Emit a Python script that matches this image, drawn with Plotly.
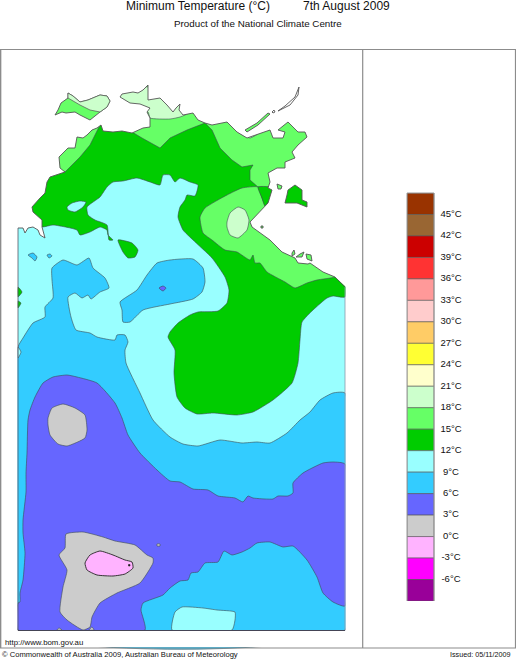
import plotly.graph_objects as go

# ---------- legend data ----------
LEVEL_BASES = [45, 42, 39, 36, 33, 30, 27, 24, 21, 18, 15, 12, 9, 6, 3, 0, -3, -6, -9]
LEVEL_COLOURS = ["#993300", "#996633", "#CC0000", "#FF3333", "#FF9999", "#FFCCCC", "#FFCC66",
                 "#FFFF33", "#FFFFCC", "#CCFFCC", "#66FF66", "#00CC00", "#99FFFF", "#33CCFF",
                 "#6666FF", "#CCCCCC", "#FFB3FF", "#FF00FF", "#990099"]
TICK_VALUES = [45, 42, 39, 36, 33, 30, 27, 24, 21, 18, 15, 12, 9, 6, 3, 0, -3, -6]
TICK_LABELS = [f"{v}°C" for v in TICK_VALUES]
C = dict(zip(LEVEL_BASES, LEVEL_COLOURS))

# ---------- map outlines (x, y in image units) ----------
land_box = [(18, 49), (345, 49), (345, 630), (18, 630)]
coast = [(18, 228), (23, 228), (25, 233), (28, 228), (33, 227), (38, 230), (40, 235), (45, 238), (42, 227),
         (42, 220), (33, 212), (32, 207), (40, 198), (45, 193), (47, 182), (50, 177), (65, 172), (60, 168),
         (59, 157), (68, 148), (75, 148), (77, 137), (83, 138), (87, 135), (92, 130), (97, 128), (101, 125),
         (103, 131), (113, 132), (122, 131), (132, 133), (138, 130), (143, 128), (150, 127), (150, 118),
         (147, 112), (150, 108), (140, 104), (130, 103), (120, 97), (122, 94), (133, 92), (138, 93),
         (143, 90), (148, 85), (148, 100), (160, 98), (167, 105), (173, 112), (176, 108), (180, 104),
         (179, 110), (183, 115), (193, 113), (198, 120), (205, 123), (212, 125), (227, 122), (237, 132),
         (247, 138), (258, 134), (270, 130), (273, 138), (283, 138), (285, 132), (278, 130), (288, 122),
         (293, 127), (298, 132), (305, 132), (307, 137), (298, 145), (292, 152), (295, 158), (285, 162),
         (285, 168), (277, 168), (268, 173), (270, 182), (268, 188), (272, 190), (268, 203), (250, 222),
         (252, 227), (260, 233), (270, 240), (282, 252), (295, 258), (298, 263), (308, 264), (310, 263),
         (323, 272), (335, 277), (345, 287)]
sea_corners = [(346, 287), (346, 48), (17, 48), (17, 228)]

blue_main = [(18, 347), (23, 338), (33, 323), (45, 317), (45, 307), (53, 298), (52, 280), (52, 268), (63, 260),
             (77, 265), (89, 258), (93, 268), (105, 278), (109, 288), (100, 292), (91, 299), (88, 295),
             (82, 298), (75, 293), (68, 297), (71, 317), (76, 330), (90, 333), (97, 337), (115, 340),
             (117, 335), (125, 335), (128, 342), (125, 350), (126, 363), (140, 393), (153, 420), (170, 437),
             (183, 444), (198, 446), (220, 440), (242, 443), (257, 442), (270, 443), (287, 433), (300, 420),
             (310, 412), (320, 400), (333, 393), (345, 393), (345, 630), (18, 630)]
blue_blob = [(120, 302), (137, 290), (147, 275), (157, 263), (170, 260), (193, 259), (203, 268), (205, 282),
             (202, 292), (193, 299), (170, 304), (143, 310), (130, 322), (123, 322), (122, 310)]
blue_dot_a = [(28, 255), (33, 253), (37, 257), (35, 261), (32, 258)]
blue_dot_b = [(47, 255), (50, 254), (52, 256), (49, 258)]
violet_dot = [(159, 288), (163, 286), (166, 288), (163, 291)]
cyan_notch = [(18, 347), (21, 352), (18, 358)]
violet_main = [(28, 420), (27, 453), (26, 473), (26, 492), (23, 520), (23, 533), (25, 553), (23, 580), (20, 593),
               (20, 602), (18, 603), (18, 630), (145, 630), (141, 610), (143, 603), (163, 595), (170, 588),
               (180, 581), (188, 580), (191, 573), (198, 572), (205, 563), (218, 562), (224, 551), (232, 555),
               (242, 552), (250, 548), (257, 543), (270, 542), (283, 547), (293, 546), (307, 560), (317, 577),
               (323, 593), (333, 602), (345, 606), (345, 464), (333, 462), (323, 463), (303, 473), (293, 483),
               (293, 493), (288, 496), (278, 496), (273, 499), (253, 498), (248, 496), (243, 502), (235, 498),
               (218, 496), (208, 490), (193, 489), (180, 482), (170, 481), (157, 470), (140, 453), (128, 435),
               (122, 418), (115, 403), (97, 383), (77, 377), (67, 375), (53, 377), (43, 383), (35, 397), (30, 410)]
grey_upper = [(48, 418), (52, 408), (63, 404), (75, 408), (85, 415), (87, 430), (85, 438), (67, 446), (58, 444),
              (50, 435), (48, 425)]
grey_lower = [(66, 534), (83, 532), (103, 537), (115, 541), (135, 545), (147, 555), (153, 558), (153, 563),
              (140, 583), (117, 593), (100, 603), (92, 617), (90, 627), (83, 630), (67, 620), (60, 612),
              (63, 587), (67, 570), (59, 555), (65, 548)]
grey_bump_a = [(57, 630), (59, 628), (62, 630)]
grey_bump_b = [(89, 630), (92, 627), (94, 630)]
grey_speck = [(157, 544), (160, 544), (160, 546), (157, 546)]
pink_core = [(85, 563), (90, 555), (100, 551), (113, 555), (125, 560), (132, 562), (133, 568), (125, 574),
             (113, 576), (97, 575), (87, 570)]
cold_dot = [(128.5, 564.5), (130, 564.5), (130, 566), (128.5, 566)]
south_cyan = [(172, 630), (175, 612), (182, 607), (203, 608), (217, 610), (235, 612), (235, 620), (232, 630)]

green_main = [(42, 227), (53, 225), (77, 230), (80, 235), (90, 232), (100, 227), (107, 230), (108, 235), (113, 240),
              (109, 240), (107, 225), (95, 220), (88, 215), (87, 207), (100, 197), (107, 187), (113, 182),
              (123, 181), (137, 178), (150, 182), (160, 185), (163, 175), (170, 175), (175, 182), (180, 178),
              (190, 182), (198, 185), (195, 196), (187, 195), (185, 200), (180, 207), (178, 217), (183, 230),
              (193, 240), (212, 258), (225, 277), (229, 290), (227, 303), (218, 311), (198, 312), (190, 315),
              (178, 323), (170, 332), (168, 337), (175, 350), (174, 373), (177, 397), (185, 408), (197, 414),
              (213, 413), (237, 415), (253, 412), (273, 400), (292, 383), (298, 363), (300, 340), (302, 322),
              (313, 310), (327, 298), (333, 296), (345, 297), (345, 260), (260, 150), (200, 110), (110, 110),
              (30, 190), (25, 220)]
cyan_lake = [(67, 207), (72, 203), (80, 201), (86, 202), (83, 207), (75, 212), (68, 210)]
green_isle = [(118, 240), (132, 243), (138, 250), (135, 257), (128, 258), (123, 252)]
green_edge_a = [(18, 287), (22, 292), (18, 297)]
green_edge_b = [(18, 301), (21, 303), (18, 308)]
light_west = [(65, 172), (80, 157), (90, 145), (100, 125), (85, 120), (50, 150), (50, 175)]
light_north = [(258, 187), (250, 180), (250, 170), (253, 165), (242, 167), (232, 160), (220, 148), (212, 130),
               (205, 123), (187, 130), (170, 138), (160, 148), (142, 138), (132, 132), (125, 125), (125, 70),
               (320, 70), (320, 188), (272, 188)]
light_south = [(205, 208), (227, 195), (242, 188), (258, 187), (262, 198), (265, 205), (275, 215), (300, 240),
               (345, 270), (335, 277), (317, 280), (307, 283), (295, 288), (285, 282), (267, 272), (260, 263),
               (255, 263), (253, 255), (250, 260), (237, 252), (225, 250), (212, 240), (203, 233), (200, 217)]
green_wedge = [(258, 187), (275, 188), (265, 206), (262, 198)]
pale_north = [(150, 118), (170, 119), (180, 117), (190, 112), (185, 95), (110, 85), (115, 110), (148, 112)]
pale_elcho = [(238, 132), (250, 138), (260, 132), (252, 128)]
pale_centre = [(227, 222), (230, 213), (238, 207), (245, 210), (249, 220), (247, 230), (238, 238), (230, 235), (227, 227)]

tiwi_outline = [(55, 115), (58, 110), (61, 103), (68, 98), (68, 93), (73, 96), (80, 102), (88, 100), (100, 95),
                (107, 96), (110, 101), (107, 107), (100, 112), (90, 120), (80, 115), (75, 112), (66, 113), (62, 112)]
tiwi_pale = [(68, 93), (73, 96), (80, 102), (88, 100), (100, 95), (107, 96), (110, 101), (107, 107), (100, 112),
             (90, 110), (80, 105), (72, 100), (68, 98)]
groote = [(288, 190), (295, 185), (302, 190), (302, 200), (307, 202), (307, 207), (297, 203), (285, 203), (287, 195)]
isle_a = [(277, 184), (282, 186), (281, 189), (278, 189)]
isle_b = [(261, 226), (263, 226), (263, 228), (261, 228)]
isle_c = [(292, 253), (294, 250), (295, 254), (292, 256)]
isle_d = [(296, 257), (300, 254), (304, 252), (302, 257)]
isle_e = [(306, 254), (311, 255), (312, 261), (307, 259)]
wessel = [(278, 111), (285, 106), (295, 97), (299, 87), (298, 95), (290, 105)]
elcho = [(245, 130), (257, 123), (268, 113), (270, 114), (258, 125), (247, 132)]
sea_isle = [(272, 112), (274, 110), (275, 112), (273, 113)]
mask_left = [(2, 49), (17.5, 49), (17.5, 647), (2, 647)]
mask_right = [(345.5, 49), (362, 49), (362, 647), (345.5, 647)]
mask_bottom = [(2, 631), (362, 631), (362, 647), (2, 647)]

# texts
TITLE_LEFT = "Minimum Temperature (°C)"
TITLE_RIGHT = "7th August 2009"
SUBTITLE = "Product of the National Climate Centre"
URL = "http://www.bom.gov.au"
COPYRIGHT = "© Commonwealth of Australia 2009, Australian Bureau of Meteorology"
ISSUED = "Issued: 05/11/2009"

FONT = "Liberation Sans"
EDGE = "#3c4a50"
COAST = "#555555"
FRAME = "#8c8c8c"

fig = go.Figure()


def poly(points, colour, edge=EDGE, width=0.6, smooth=True):
    xs = [p[0] for p in points] + [points[0][0]]
    ys = [p[1] for p in points] + [points[0][1]]
    line = dict(color=edge, width=width)
    if smooth:
        line.update(shape="spline", smoothing=0.5)
    fig.add_trace(go.Scatter(x=xs, y=ys, mode="lines", fill="toself", fillcolor=colour, line=line,
                             hoverinfo="skip", showlegend=False))


NONE = "rgba(0,0,0,0)"
poly(land_box, C[9], edge=NONE, smooth=False)
for shape, col in [(blue_main, C[6]), (blue_blob, C[6]), (blue_dot_a, C[6]), (blue_dot_b, C[6]),
                   (violet_dot, C[3]), (cyan_notch, C[9]), (violet_main, C[3]), (grey_upper, C[0]),
                   (grey_lower, C[0]), (grey_bump_a, C[0]), (grey_bump_b, C[0]), (grey_speck, C[0]),
                   (south_cyan, C[9])]:
    poly(shape, col)
poly(pink_core, C[-3], edge="#222222", width=0.9)
poly(cold_dot, "#222222", edge="#222222", smooth=False)
for shape, col in [(green_main, C[12]), (cyan_lake, C[9]), (green_isle, C[12]), (green_edge_a, C[12]),
                   (green_edge_b, C[12]), (light_west, C[15]), (light_north, C[15]), (light_south, C[15]),
                   (green_wedge, C[12]), (pale_north, C[18]), (pale_elcho, C[18]), (pale_centre, C[18])]:
    poly(shape, col, smooth=shape is not light_north and shape is not light_west)

# sea mask, then coast line and islands
sea = coast + sea_corners
poly(sea, "#FFFFFF", edge=NONE, smooth=False)
for m in (mask_left, mask_right, mask_bottom):
    poly(m, "#FFFFFF", edge=NONE, smooth=False)
fig.add_trace(go.Scatter(x=[p[0] for p in coast], y=[p[1] for p in coast], mode="lines",
                         line=dict(color=COAST, width=0.9), hoverinfo="skip", showlegend=False))
poly(tiwi_outline, C[15], edge=COAST, width=0.9, smooth=False)
poly(tiwi_pale, C[18], edge=COAST, width=0.7, smooth=False)
poly(groote, C[12], edge=COAST, width=0.9, smooth=False)
for shape, col in [(isle_a, C[15]), (isle_b, C[15]), (isle_c, C[15]), (isle_d, C[15]), (isle_e, C[15]),
                   (wessel, "#FFFFFF"), (elcho, C[15]), (sea_isle, "#FFFFFF")]:
    poly(shape, col, edge=COAST, width=0.9, smooth=False)

# colour legend
fig.add_trace(go.Bar(x=[0.5] * len(LEVEL_BASES), y=[3] * len(LEVEL_BASES), base=LEVEL_BASES, width=1,
                     marker=dict(color=LEVEL_COLOURS, line=dict(color="#555555", width=0.6)),
                     xaxis="x2", yaxis="y2", hoverinfo="skip", showlegend=False))
fig.add_trace(go.Scatter(x=[1.63] * len(TICK_VALUES), y=TICK_VALUES, text=TICK_LABELS, mode="text",
                         textposition="middle center", textfont=dict(family=FONT, size=9.5, color="#111111"),
                         xaxis="x2", yaxis="y2", cliponaxis=False, hoverinfo="skip", showlegend=False))

shapes = []
for x0, y0, x1, y1, col, w in [(0.6, 49.5, 515.5, 49.5, FRAME, 1.2), (0.6, 49, 0.6, 648, FRAME, 1.5),
                               (362.7, 49, 362.7, 648, FRAME, 1.2), (515.5, 49, 515.5, 648, FRAME, 1.2),
                               (0, 648, 516, 648, FRAME, 1.2), (18, 228, 18, 630.5, "#556", 0.8),
                               (345, 287, 345, 630.5, "#8899aa", 0.8), (18, 630.5, 345, 630.5, "#445", 1.0),
                               (407, 193, 407, 601, "#999999", 1.0), (434, 193, 434, 601, "#999999", 1.0),
                               (407, 193, 434, 193, "#999999", 1.0)]:
    shapes.append(dict(type="line", xref="x", yref="y", x0=x0, y0=y0, x1=x1, y1=y1,
                       line=dict(color=col, width=w), layer="above"))


def label(x, y, text, size, anchor="left"):
    return dict(x=x, y=y, xref="x", yref="y", text=text, showarrow=False, xanchor=anchor, yanchor="middle",
                font=dict(family=FONT, size=size, color="#111111"))


annotations = [label(124, 5.5, TITLE_LEFT, 12), label(301, 5.5, TITLE_RIGHT, 12),
               label(258, 23, SUBTITLE, 9.8, "center"), label(3, 642, URL, 7.8),
               label(0, 654.5, COPYRIGHT, 7.6), label(513, 654.5, ISSUED, 7.2, "right")]

fig.update_layout(
    width=516, height=660, autosize=False, margin=dict(l=0, r=0, t=0, b=0),
    paper_bgcolor="white", plot_bgcolor="white", showlegend=False, barmode="overlay",
    xaxis=dict(range=[0, 516], domain=[0, 1], visible=False, fixedrange=True),
    yaxis=dict(range=[660, 0], domain=[0, 1], visible=False, fixedrange=True),
    xaxis2=dict(range=[0, 68 / 27], domain=[407 / 516, 475 / 516], anchor="y2", visible=False),
    yaxis2=dict(range=[-9, 48], domain=[59 / 660, 467 / 660], anchor="x2", visible=False),
    shapes=shapes, annotations=annotations,
)
fig.write_html("out.html", config=dict(displayModeBar=False),
               post_script="document.body.style.margin='0';document.body.style.overflow='hidden';")
